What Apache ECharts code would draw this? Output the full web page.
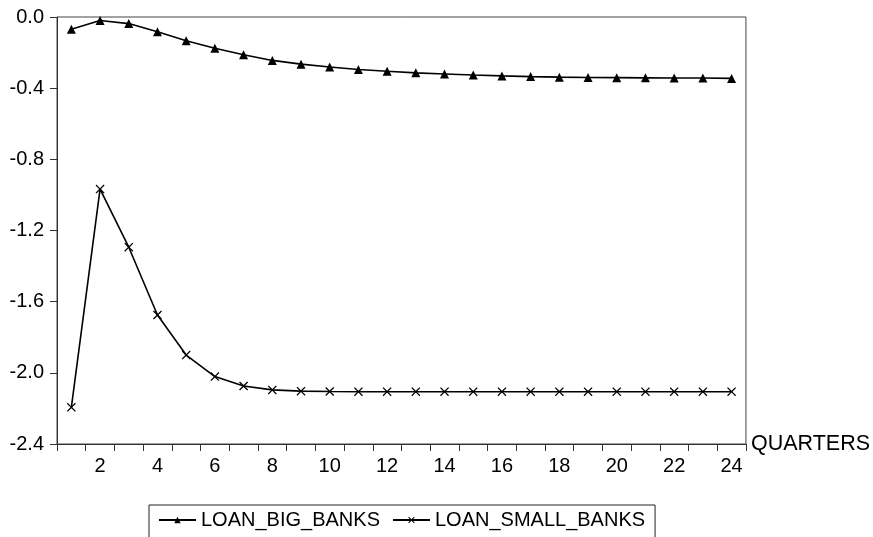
<!DOCTYPE html>
<html>
<head>
<meta charset="utf-8">
<script src="https://cdn.jsdelivr.net/npm/echarts@6/dist/echarts.min.js"></script>
<style>html,body{margin:0;padding:0;background:#fff}#c{width:873px;height:537px}</style>
</head>
<body>
<div id="c"></div>
<script>
const categories = ['1','2','3','4','5','6','7','8','9','10','11','12','13','14','15','16','17','18','19','20','21','22','23','24'];
const loanBigBanks = [-0.069, -0.020, -0.037, -0.083, -0.133, -0.176, -0.212, -0.244, -0.265, -0.281, -0.295, -0.305, -0.314, -0.320, -0.326, -0.331, -0.335, -0.338, -0.340, -0.341, -0.342, -0.343, -0.343, -0.345];
const loanSmallBanks = [-2.194, -0.967, -1.294, -1.675, -1.900, -2.021, -2.074, -2.096, -2.103, -2.105, -2.106, -2.106, -2.106, -2.106, -2.106, -2.106, -2.106, -2.106, -2.106, -2.106, -2.106, -2.106, -2.106, -2.106];
const yTicks = [0.0, -0.4, -0.8, -1.2, -1.6, -2.0, -2.4];

const FONT = 'Liberation Sans, Arial, sans-serif';
const crossPath = 'path://M0,1L1,0L5,4L9,0L10,1L6,5L10,9L9,10L5,6L1,10L0,9L4,5Z';

const chart = echarts.init(document.getElementById('c'), null, {renderer: 'canvas'});
chart.setOption({
  animation: false,
  backgroundColor: '#fff',
  textStyle: {fontFamily: FONT, color: '#000'},
  grid: {left: 57, right: 126, top: 17, bottom: 93, show: true, borderColor: '#444', borderWidth: 1, containLabel: false},
  legend: {
    left: 149, top: 505,
    padding: [5, 10, 20, 9],
    borderColor: '#222', borderWidth: 1,
    itemWidth: 37, itemHeight: 8, itemGap: 12,
    textStyle: {fontFamily: FONT, fontSize: 20, color: '#000'},
    data: ['LOAN_BIG_BANKS', 'LOAN_SMALL_BANKS']
  },
  xAxis: {
    type: 'category',
    data: categories,
    boundaryGap: true,
    name: 'QUARTERS',
    nameLocation: 'end',
    nameGap: 5,
    nameTextStyle: {fontFamily: FONT, fontSize: 21.5, color: '#000', verticalAlign: 'middle'},
    axisLine: {show: true, onZero: false, lineStyle: {color: '#333', width: 1}},
    axisTick: {show: true, interval: 0, length: 7, inside: false, alignWithLabel: false, lineStyle: {color: '#333'}},
    axisLabel: {
      interval: function (idx) { return idx % 2 === 1; },
      margin: 12, fontFamily: FONT, fontSize: 20, color: '#000'
    },
    splitLine: {show: false}
  },
  yAxis: {
    type: 'value',
    min: -2.4, max: 0, interval: 0.4,
    axisLine: {show: true, lineStyle: {color: '#333', width: 1}},
    axisTick: {show: true, length: 7, inside: false, lineStyle: {color: '#333'}},
    axisLabel: {
      margin: 13, fontFamily: FONT, fontSize: 20, color: '#000',
      formatter: function (v) {
        const t = yTicks.find(function (k) { return Math.abs(k - v) < 1e-9; });
        return (t === undefined ? v : t).toFixed(1);
      }
    },
    splitLine: {show: false}
  },
  series: [
    {
      name: 'LOAN_BIG_BANKS', type: 'line', data: loanBigBanks,
      symbol: 'triangle', symbolSize: 9, showAllSymbol: true,
      lineStyle: {color: '#000', width: 1.6},
      itemStyle: {color: '#000'}
    },
    {
      name: 'LOAN_SMALL_BANKS', type: 'line', data: loanSmallBanks,
      symbol: crossPath, symbolSize: 9, showAllSymbol: true,
      lineStyle: {color: '#000', width: 1.6},
      itemStyle: {color: '#000'}
    }
  ]
});
</script>
</body>
</html>
